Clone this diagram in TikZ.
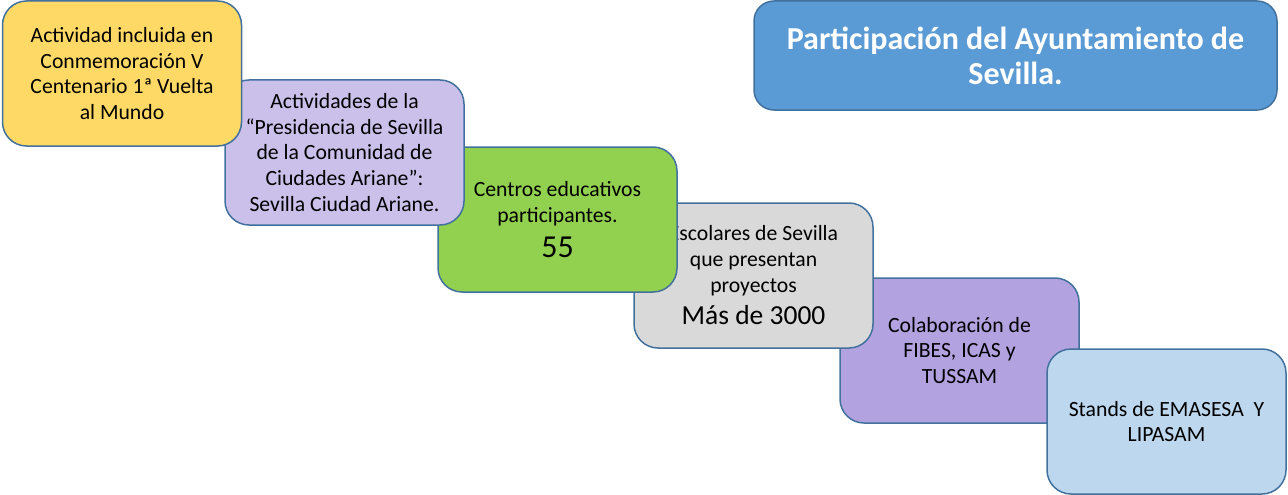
\documentclass[tikz,border=0pt]{standalone}
\usepackage{fontspec}
\setmainfont{Carlito}
\definecolor{bordc}{HTML}{41719C}
\definecolor{cyel}{HTML}{FFD966}
\definecolor{clav}{HTML}{CBC0EA}
\definecolor{cgrn}{HTML}{92D050}
\definecolor{cgry}{HTML}{D9D9D9}
\definecolor{cpur}{HTML}{B3A2E0}
\definecolor{clbl}{HTML}{BDD7EE}
\definecolor{ctit}{HTML}{5B9BD5}
\tikzset{
  stepbox/.style={draw=bordc, line width=1.5pt, rounded corners=24pt,
    minimum width=239pt, minimum height=145pt, align=center, inner sep=0pt,
    font=\fontsize{21.7}{25.7}\selectfont, text=black},
  titlebox/.style={draw=bordc, line width=1.5pt, rounded corners=20pt,
    minimum width=523pt, minimum height=109pt, align=center, inner sep=0pt,
    fill=ctit, text=white, font=\bfseries\fontsize{32}{35}\selectfont},
}
\begin{document}
\begin{tikzpicture}[x=1pt,y=-1pt]
\useasboundingbox (0,0) rectangle (1288,495);
\node[stepbox, fill=cpur] (purp) at (959.5,350.5) {Colaboración de\\FIBES, ICAS y\\TUSSAM};
\node[stepbox, fill=clbl] (lblu) at (1166.5,421.5) {Stands de EMASESA\ \ Y\\LIPASAM};
\node[stepbox, fill=cgry] (gray) at (753.5,275.5) {Escolares de Sevilla\\que presentan\\proyectos\\[7pt]{\fontsize{27.5}{30}\selectfont Más de 3000}};
\node[stepbox, fill=cgrn] (grn) at (557.5,219.5) {Centros educativos\\participantes.\\[9pt]{\fontsize{32}{32}\selectfont 55}};
\node[stepbox, fill=clav] (lav) at (344.5,152.5) {Actividades de la\\“Presidencia de Sevilla\\de la Comunidad de\\Ciudades Ariane”:\\Sevilla Ciudad Ariane.};
\node[stepbox, fill=cyel] (yel) at (122,73.5) {Actividad incluida en\\Conmemoración V\\Centenario 1ª Vuelta\\al Mundo};
\node[titlebox] (tit) at (1015.5,55.5) {Participación del Ayuntamiento de\\Sevilla.};
\end{tikzpicture}
\end{document}
